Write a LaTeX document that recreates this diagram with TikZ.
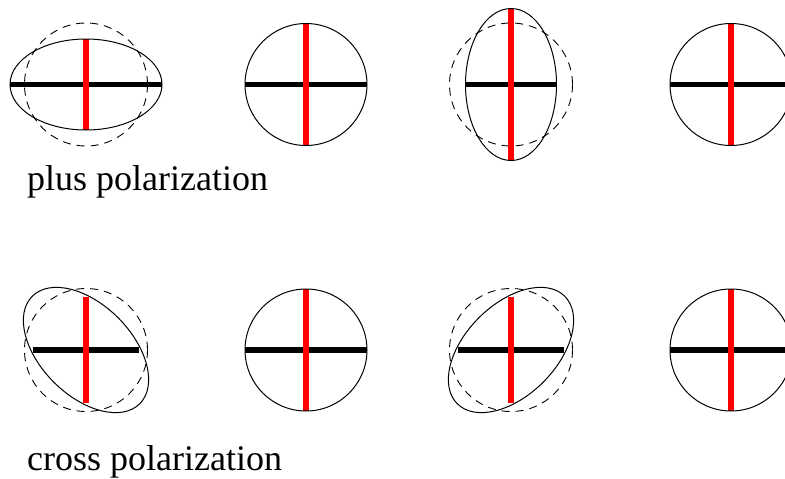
\documentclass[tikz,border=0pt]{standalone}
\usepackage{fontspec}
\setmainfont{Liberation Serif}
\begin{document}
\begin{tikzpicture}[x=1pt,y=-1pt,
  outline/.style={line width=1pt},
  dashcircle/.style={line width=0.9pt,dash pattern=on 8pt off 6pt},
  hbar/.style={line width=5.5pt,black},
  vbar/.style={line width=5.5pt,red},
  label/.style={anchor=base west,inner sep=0pt,font=\fontsize{36}{40}\selectfont}]
\clip (0,0) rectangle (785,479);
\fill[white] (0,0) rectangle (785,479);
% ---- plus row ----
% 1: horizontal ellipse
\draw[dashcircle] (86,84.5) circle (61.5);
\draw[hbar] (10,84.5) -- (162,84.5);
\draw[vbar] (86,39) -- (86,130);
\draw[outline] (86,84.5) ellipse [x radius=76, y radius=45.5];
% 2: circle
\draw[hbar] (245,84.5) -- (367,84.5);
\draw[vbar] (306,23.5) -- (306,145.5);
\draw[outline] (306,84.5) circle (61);
% 3: vertical ellipse
\draw[dashcircle] (511,84.5) circle (61.5);
\draw[hbar] (465.5,84.5) -- (556.5,84.5);
\draw[vbar] (511,8.5) -- (511,160.5);
\draw[outline] (511,84.5) ellipse [x radius=45.5, y radius=76];
% 4: circle
\draw[hbar] (670,84.5) -- (792,84.5);
\draw[vbar] (731,23.5) -- (731,145.5);
\draw[outline] (731,84.5) circle (61);
\node[label] (plus) at (27,190) {plus polarization};
% ---- cross row ----
% 1: ellipse tilted down-right
\draw[dashcircle] (86,350) circle (61.5);
\draw[hbar] (33,350) -- (139,350);
\draw[vbar] (86,297) -- (86,403);
\draw[outline,rotate around={-45:(86,350)}] (86,350) ellipse [x radius=76, y radius=45.5];
% 2: circle
\draw[hbar] (245,350) -- (367,350);
\draw[vbar] (306,289) -- (306,411);
\draw[outline] (306,350) circle (61);
% 3: ellipse tilted up-right
\draw[dashcircle] (511,350) circle (61.5);
\draw[hbar] (458,350) -- (564,350);
\draw[vbar] (511,297) -- (511,403);
\draw[outline,rotate around={45:(511,350)}] (511,350) ellipse [x radius=76, y radius=45.5];
% 4: circle
\draw[hbar] (670,350) -- (792,350);
\draw[vbar] (731,289) -- (731,411);
\draw[outline] (731,350) circle (61);
\node[label] (cross) at (27,470) {cross polarization};
\end{tikzpicture}
\end{document}
